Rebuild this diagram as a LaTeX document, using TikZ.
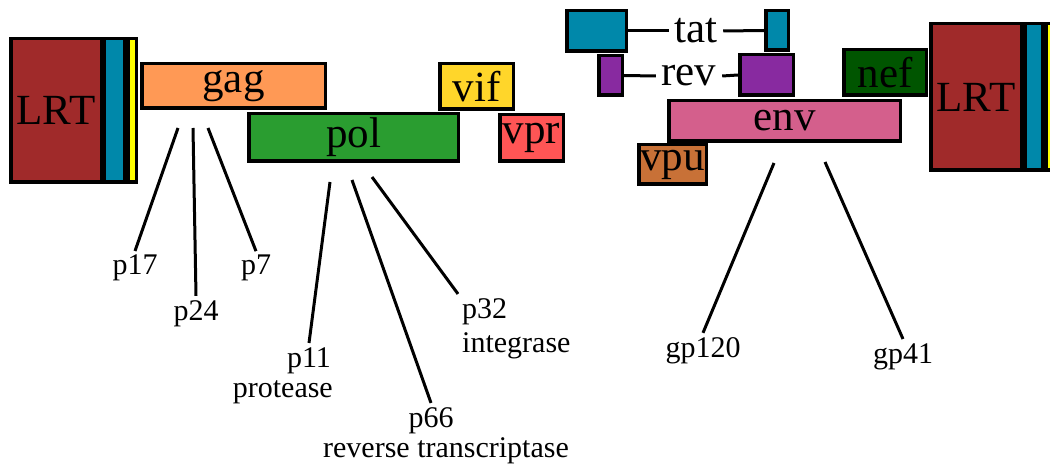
\documentclass[tikz,border=0pt]{standalone}
\usepackage{fontspec}
\setmainfont{Liberation Serif}
\definecolor{lrtred}{RGB}{160,42,42}
\definecolor{ltrblue}{RGB}{0,136,170}
\definecolor{ltryellow}{RGB}{255,255,0}
\definecolor{gagorange}{RGB}{255,153,85}
\definecolor{polgreen}{RGB}{42,157,48}
\definecolor{vifyellow}{RGB}{255,214,42}
\definecolor{vprred}{RGB}{255,85,85}
\definecolor{revpurple}{RGB}{136,42,160}
\definecolor{nefgreen}{RGB}{0,85,0}
\definecolor{envpink}{RGB}{212,95,140}
\definecolor{vpubrown}{RGB}{200,113,55}
\begin{document}
\begin{tikzpicture}[x=1pt,y=-1pt,
  gene/.style={draw=black,line width=3.5pt,inner sep=0pt,
    font=\fontsize{43}{48}\selectfont},
  prot/.style={inner sep=4pt,font=\fontsize{30}{32}\selectfont},
  link/.style={line width=3pt},
  tie/.style={line width=3pt}]
\useasboundingbox (0,0) rectangle (1050,465);

% 5' long terminal repeat
\node[gene,fill=lrtred,minimum width=90.5pt,minimum height=143.5pt] (lrtL) at (56,110.5) {LRT};
\node[gene,fill=ltrblue,minimum width=20.5pt,minimum height=143.5pt] (ltrbL) at (114,110.5) {};
\node[gene,fill=ltryellow,minimum width=8.5pt,minimum height=143.5pt] (ltryL) at (132,110.5) {};

% gag, pol, vif, vpr
\node[gene,fill=gagorange,minimum width=183.5pt,minimum height=44.5pt] (gag) at (233.5,86) {gag};
\node[gene,fill=polgreen,minimum width=209.5pt,minimum height=47.5pt] (pol) at (353.5,137.5) {pol};
\node[gene,fill=vifyellow,minimum width=73.5pt,minimum height=45.5pt] (vif) at (476.5,86.5) {vif};
\node[gene,fill=vprred,minimum width=63.5pt,minimum height=46.5pt] (vpr) at (531.5,138) {vpr};

% spliced tat and rev exons
\node[gene,fill=ltrblue,minimum width=59.5pt,minimum height=40.5pt] (tatL) at (596.5,31) {};
\node[gene,fill=ltrblue,minimum width=22.5pt,minimum height=39.5pt] (tatR) at (777,30.5) {};
\node[gene,draw=none,inner sep=4pt] (tat) at (696,31) {tat};
\draw[tie] (tatL.east) -- (tat.west);
\draw[tie] (tat.east) -- (tatR.west);

\node[gene,fill=revpurple,minimum width=23.5pt,minimum height=39.5pt] (revL) at (610.5,75.5) {};
\node[gene,fill=revpurple,minimum width=53.5pt,minimum height=40.5pt] (revR) at (766.5,75) {};
\node[gene,draw=none,inner sep=4pt] (rev) at (689,76) {rev};
\draw[tie] (revL.east) -- (rev.west);
\draw[tie] (rev.east) -- (revR.west);

% nef, env, vpu
\node[gene,fill=nefgreen,minimum width=82.5pt,minimum height=45.5pt] (nef) at (885,72.5) {nef};
\node[gene,fill=envpink,minimum width=231.5pt,minimum height=40.5pt] (env) at (784.5,121) {env\hspace{26pt}};
\node[gene,fill=vpubrown,minimum width=67.5pt,minimum height=39.5pt] (vpu) at (672.5,164.5) {vpu};

% 3' long terminal repeat
\node[gene,fill=lrtred,minimum width=90.5pt,minimum height=146.5pt] (lrtR) at (976,97) {LRT};
\node[gene,fill=ltrblue,minimum width=17.5pt,minimum height=146.5pt] (ltrbR) at (1033.5,97) {};
\node[gene,fill=ltryellow,minimum width=8.5pt,minimum height=146.5pt] (ltryR) at (1050,97) {};

% gag products
\node[prot,anchor=base] (p17) at (135,275) {p17};
\node[prot,anchor=base] (p24) at (196,320) {p24};
\node[prot,anchor=base] (p7) at (256,275) {p7};
\coordinate (c17) at (178,128);
\coordinate (c24) at (193,128);
\coordinate (c7) at (208,128);
\draw[link] (c17) -- (p17.north);
\draw[link] (c24) -- (p24.north);
\draw[link] (c7) -- (p7.north);

% pol products
\node[prot,anchor=base] (p11) at (309,367) {p11};
\node[prot,anchor=base east] (p11t) at (337,397) {protease};
\node[prot,anchor=base] (p66) at (431,427) {p66};
\node[prot,anchor=base] (p66t) at (446,457) {reverse transcriptase};
\node[prot,anchor=base west] (p32) at (458,318) {p32};
\node[prot,anchor=base west] (p32t) at (458,352) {integrase};
\coordinate (c11) at (330,182);
\coordinate (c66) at (352,180);
\coordinate (c32) at (372,177);
\draw[link] (c11) -- (p11.north);
\draw[link] (c66) -- (p66.north);
\draw[link] (c32) -- (p32.north west);

% env products
\node[prot,anchor=base] (gp120) at (703,357) {gp120};
\node[prot,anchor=base] (gp41) at (903,363) {gp41};
\coordinate (c120) at (774,163);
\coordinate (c41) at (825,162);
\draw[link] (c120) -- (gp120.north);
\draw[link] (c41) -- (gp41.north);
\end{tikzpicture}
\end{document}
